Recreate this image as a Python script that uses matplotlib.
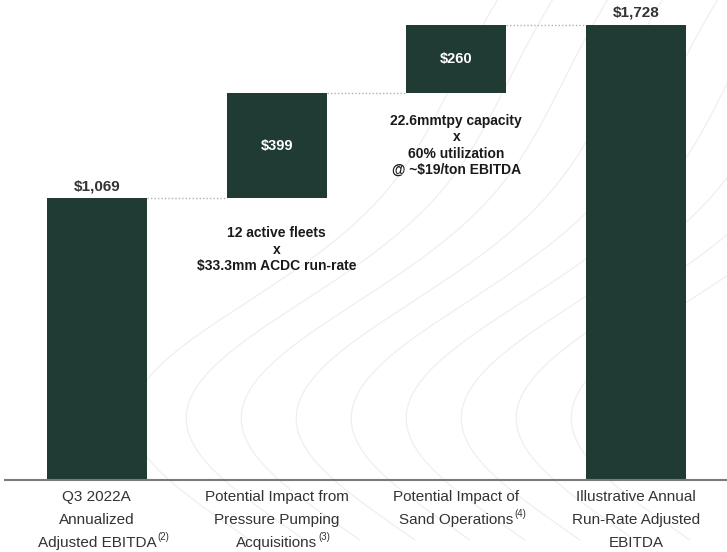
import numpy as np
import matplotlib
matplotlib.use("Agg")
import matplotlib.pyplot as plt
from matplotlib import font_manager

# Waterfall data (US$ millions)
categories = [
    ["Q3 2022A", "Annualized", "Adjusted EBITDA"],
    ["Potential Impact from", "Pressure Pumping", "Acquisitions"],
    ["Potential Impact of", "Sand Operations"],
    ["Illustrative Annual", "Run-Rate Adjusted", "EBITDA"],
]
footnotes = ["(2)", "(3)", "(4)", None]
values = [1069, 399, 260, 1728]
kinds = ["total", "delta", "delta", "total"]
value_labels = ["$1,069", "$399", "$260", "$1,728"]
notes = {
    1: ["12 active fleets", "x", "$33.3mm ACDC run-rate"],
    2: ["22.6mmtpy capacity", "x", "60% utilization", "@ ~$19/ton EBITDA"],
}

BAR = "#1f3b33"
TEXT = "#333333"
PX = 0.72  # points per pixel at 100 dpi

names = {f.name for f in font_manager.fontManager.ttflist}
narrow = "Liberation Sans Narrow" if "Liberation Sans Narrow" in names else "Liberation Sans"
plt.rcParams["font.family"] = ["Liberation Sans", "DejaVu Sans"]

fig = plt.figure(figsize=(7.27, 5.52), dpi=100)

# faint decorative contour lines in the background
bg = fig.add_axes([0, 0, 1, 1], zorder=0)
bg.set_xlim(0, 727)
bg.set_ylim(552, 0)
bg.axis("off")
t = np.linspace(0, 1, 300)
for k in range(9):
    off = 55 * k
    x = 390 + off - 260 * np.exp(-((t - 0.78) / 0.28) ** 2) + 120 * (1 - t) ** 3
    y = -20 + t * 560
    bg.plot(x, y, color="#efefef", lw=0.9, zorder=0)

ax = fig.add_axes([5 / 727, 1 - 480 / 552, 1 - 5 / 727, 480 / 552], zorder=1)
ax.patch.set_alpha(0)

xs = np.arange(len(values))
width = 0.556
bottoms, tops = [], []
running = 0
for v, kind in zip(values, kinds):
    if kind == "total":
        bottoms.append(0)
        tops.append(v)
        running = v
    else:
        bottoms.append(running)
        running += v
        tops.append(running)
heights = [tp - b for tp, b in zip(tops, bottoms)]

ax.bar(xs, heights, bottom=bottoms, width=width, color=BAR, zorder=2)

# dotted connectors between consecutive bars
for i in range(len(values) - 1):
    level = tops[i]
    ax.plot([xs[i] + width / 2, xs[i + 1] - width / 2], [level, level],
            ls=(0, (1, 1.5)), color="#b0b0b0", lw=1, zorder=1)

for i, (lab, kind) in enumerate(zip(value_labels, kinds)):
    if kind == "total":
        ax.annotate(lab, (xs[i], tops[i]), xytext=(0, 3.5), textcoords="offset points",
                    ha="center", va="bottom", fontsize=11, fontweight="bold", color=TEXT)
    else:
        ax.text(xs[i], bottoms[i] + heights[i] / 2, lab, ha="center", va="center",
                fontsize=10.5, fontweight="bold", color="white")

# explanatory notes under the incremental bars
note_offsets = {1: 35, 2: 28}
for i, lines in notes.items():
    for j, line in enumerate(lines):
        ax.annotate(line, (xs[i], bottoms[i]),
                    xytext=(0, -(note_offsets[i] + 16.3 * j) * PX),
                    textcoords="offset points", ha="center", va="center",
                    fontsize=10, fontweight="bold", color="#1a1a1a")

# category labels below the baseline, with footnote markers
ax.set_xticks([])
for i, lines in enumerate(categories):
    last = None
    for j, line in enumerate(lines):
        last = ax.annotate(line, (xs[i], 0), xytext=(0, -(17 + 23 * j) * PX),
                           textcoords="offset points", ha="center", va="center",
                           fontsize=11, color=TEXT, family=narrow)
    if footnotes[i]:
        ax.annotate(footnotes[i], (1, 0.55), xycoords=last, xytext=(1, 0),
                    textcoords="offset points", ha="left", va="bottom",
                    fontsize=7, color=TEXT, family=narrow)

ax.set_xlim(-0.511, 3.506)
ax.set_ylim(0, 1821)
ax.set_yticks([])
for s in ["top", "right", "left"]:
    ax.spines[s].set_visible(False)
ax.spines["bottom"].set_color("#7a7a7a")
ax.spines["bottom"].set_linewidth(1.5)

fig.savefig("out.png", dpi=100)
